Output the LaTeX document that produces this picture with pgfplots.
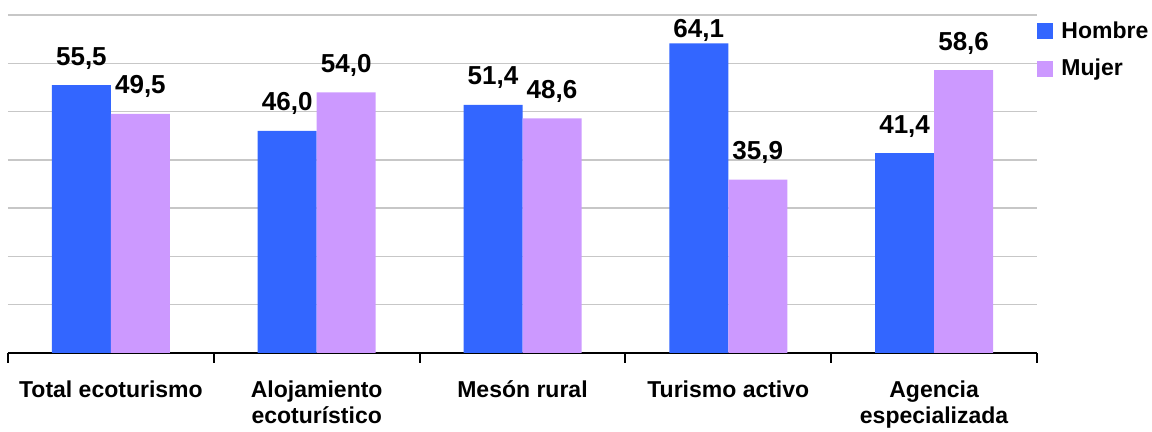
\documentclass[border=0pt]{standalone}
\usepackage{fontspec}
\setmainfont{Liberation Sans}
\usepackage{pgfplots}
\pgfplotsset{compat=1.18}
\definecolor{hom}{HTML}{3366FF}
\definecolor{muj}{HTML}{CC99FF}
\begin{document}
\begin{tikzpicture}[x=1pt,y=1pt]
\path[use as bounding box] (0,0) rectangle (576,216);
\begin{axis}[
  at={(4pt,39.5pt)}, anchor=south west,
  scale only axis, width=514.5pt, height=169pt,
  xmin=-0.5, xmax=4.5, ymin=0, ymax=70,
  ybar=0pt, bar width=29.5pt,
  axis x line*=bottom, axis y line*=left,
  x axis line style={black, line width=1pt, -},
  y axis line style={draw=none},
  ytick={0,10,...,70}, yticklabels={},
  ymajorgrids, grid style={draw=black!22, line width=0.75pt},
  major tick length=0pt,
  xtick={0,1,2,3,4},
  xticklabels={Total ecoturismo, Alojamiento\\ecotur\'istico, Mes\'on rural, Turismo activo, Agencia\\especializada},
  minor xtick={-0.5,0.5,1.5,2.5,3.5,4.5},
  minor tick length=5pt, tick align=outside,
  minor x tick style={black, line width=1pt},
  xticklabel style={font=\fontsize{11.5}{13}\selectfont\bfseries, align=center, yshift=-10.5pt},
  nodes near coords,
  nodes near coords style={font=\fontsize{13}{15}\selectfont\bfseries, anchor=base, yshift=10pt, inner sep=0pt},
  /pgf/number format/.cd, fixed, fixed zerofill, precision=1, use comma, assume math mode=true, /pgfplots/.cd,
  legend style={at={(1,1)}, anchor=north west, draw=none, fill=none, font=\fontsize{11.5}{13}\selectfont\bfseries, row sep=5pt, column sep=2pt, inner sep=0pt, xshift=0pt, yshift=-1pt},
  legend cell align=left,
]
\addplot[fill=hom, draw=none, legend image code/.code={\fill[hom] (0pt,-4pt) rectangle (8pt,4pt);},
  coordinate style/.condition={y>60}{yshift=-7pt}]
  coordinates {(0,55.5) (1,46.0) (2,51.4) (3,64.1) (4,41.4)};
\addplot[fill=muj, draw=none, legend image code/.code={\fill[muj] (0pt,-4pt) rectangle (8pt,4pt);}]
  coordinates {(0,49.5) (1,54.0) (2,48.6) (3,35.9) (4,58.6)};
\legend{Hombre, Mujer}
\end{axis}
\end{tikzpicture}
\end{document}
